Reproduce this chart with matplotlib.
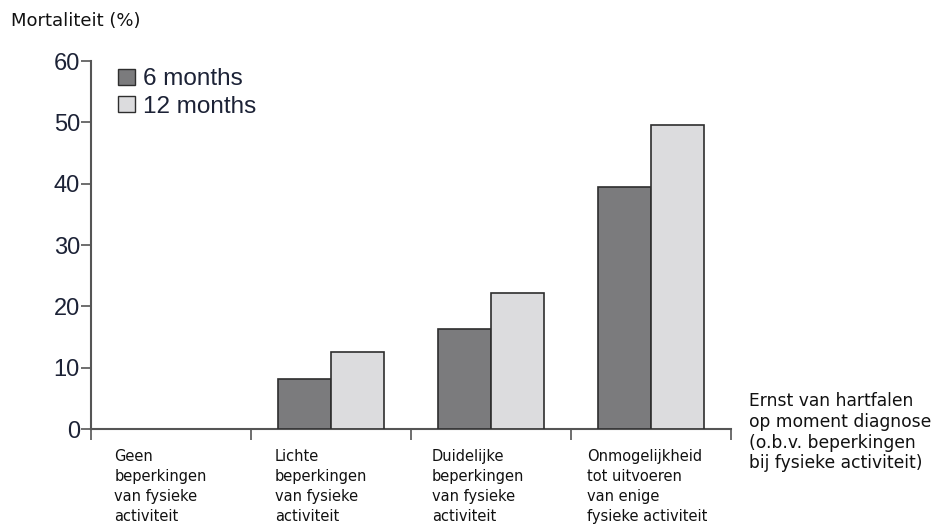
import matplotlib
matplotlib.use("Agg")
import matplotlib.pyplot as plt
import numpy as np
from matplotlib.patches import Patch

categories = [
    "Geen\nbeperkingen\nvan fysieke\nactiviteit",
    "Lichte\nbeperkingen\nvan fysieke\nactiviteit",
    "Duidelijke\nbeperkingen\nvan fysieke\nactiviteit",
    "Onmogelijkheid\ntot uitvoeren\nvan enige\nfysieke activiteit",
]
months6 = [0.0, 8.1, 16.3, 39.4]
months12 = [0.0, 12.6, 22.2, 49.6]
series_labels = ["6 months", "12 months"]
yticks = [0, 10, 20, 30, 40, 50, 60]

dark = "#7b7b7d"
light = "#dcdcde"
edge = "#2e2e2e"
axcol = "#555555"
tickcol = "#1c2236"

fig = plt.figure(figsize=(9.37, 5.32), dpi=100)
ax = fig.add_axes([91/937, 1-429/532, (731-91)/937, (429-61)/532])

x = np.arange(len(categories))
w = 0.334
lw6 = [1.2 if v > 0 else 0 for v in months6]
lw12 = [1.2 if v > 0 else 0 for v in months12]
ax.bar(x - w/2, months6, w, color=dark, edgecolor=edge, linewidth=lw6, zorder=3)
ax.bar(x + w/2, months12, w, color=light, edgecolor=edge, linewidth=lw12, zorder=3)

ax.set_xlim(-0.5, len(categories) - 0.5)
ax.set_ylim(0, 60)
ax.set_yticks(yticks)
ax.set_yticklabels([str(t) for t in yticks], fontsize=17, color=tickcol,
                   family=["Liberation Sans", "DejaVu Sans"])
ax.tick_params(axis="y", length=7, width=1.2, color=axcol, pad=1)

ax.set_xticks(np.arange(len(categories) + 1) - 0.5)
ax.set_xticklabels([])
ax.tick_params(axis="x", length=8, width=1.2, color=axcol, direction="out")

for s in ["top", "right"]:
    ax.spines[s].set_visible(False)
for s in ["left", "bottom"]:
    ax.spines[s].set_color(axcol)
    ax.spines[s].set_linewidth(1.5)

offsets = [0.145, 0.15, 0.13, 0.10]
for i, (lab, off) in enumerate(zip(categories, offsets)):
    ax.text(i - 0.5 + off, -3.2, lab, ha="left", va="top", fontsize=10.5,
            family="DejaVu Sans", color="#111111", linespacing=1.42,
            transform=ax.transData, clip_on=False)

fig.text(11/937, 1-21/532, "Mortaliteit (%)", ha="left", va="center",
         fontsize=13, family="DejaVu Sans", color="#111111")
fig.text(749/937, 1-392/532,
         "Ernst van hartfalen\nop moment diagnose\n(o.b.v. beperkingen\nbij fysieke activiteit)",
         ha="left", va="top", fontsize=12.3, family="DejaVu Sans",
         color="#111111", linespacing=1.2)

handles = [Patch(facecolor=dark, edgecolor=edge, linewidth=1.0),
           Patch(facecolor=light, edgecolor=edge, linewidth=1.0)]
leg = ax.legend(handles, series_labels, loc="upper left",
                bbox_to_anchor=(0.042, 0.98), frameon=False,
                prop={"family": "Liberation Sans", "size": 17.5},
                handlelength=0.72, handleheight=0.62, handletextpad=0.3,
                labelspacing=0.22, borderaxespad=0, borderpad=0)
for t in leg.get_texts():
    t.set_color(tickcol)

fig.savefig("out.png", dpi=100)
